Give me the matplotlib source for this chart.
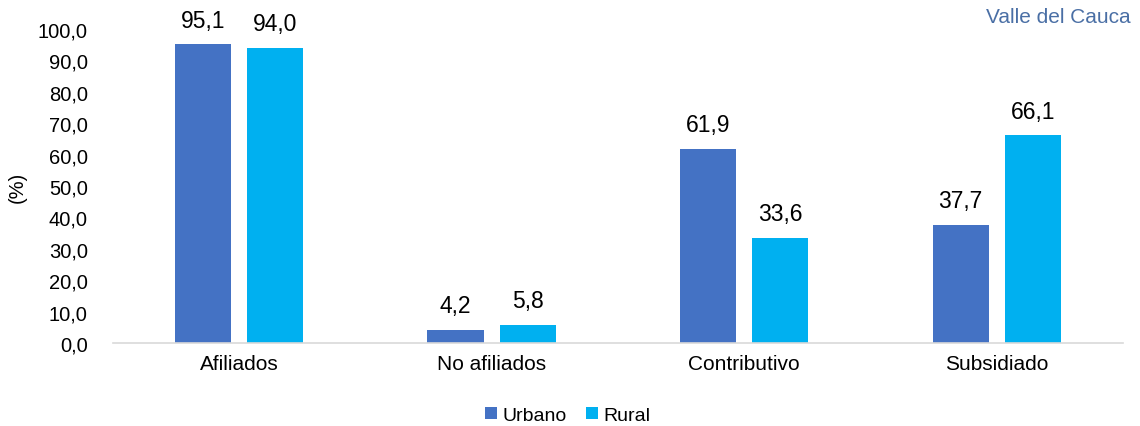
import numpy as np
import matplotlib.pyplot as plt

plt.rcParams['font.family'] = ['Liberation Sans', 'DejaVu Sans']

categories = ['Afiliados', 'No afiliados', 'Contributivo', 'Subsidiado']
urbano = [95.1, 4.2, 61.9, 37.7]
rural = [94.0, 5.8, 33.6, 66.1]
yticks = np.arange(0, 101, 10)

fig = plt.figure(figsize=(11.4, 4.27), dpi=100)
ax = fig.add_axes([0.099, 0.194, 0.886, 0.736])

x = np.arange(len(categories))
w = 0.222
off = 0.143
b1 = ax.bar(x - off, urbano, w, color='#4472C4', label='Urbano')
b2 = ax.bar(x + off, rural, w, color='#00B0F0', label='Rural')

for bars, vals in ((b1, urbano), (b2, rural)):
    for b, v in zip(bars, vals):
        ax.annotate(f'{v:.1f}'.replace('.', ','), (b.get_x() + b.get_width() / 2, v),
                    xytext=(0, 9), textcoords='offset points',
                    ha='center', va='bottom', fontsize=16.5, color='#000000')

ax.set_xlim(-0.5, 3.5)
ax.set_ylim(0, 100)
ax.set_yticks(yticks)
ax.set_yticklabels([f'{t:.1f}'.replace('.', ',') for t in yticks], fontsize=14.5)
ax.set_xticks(x)
ax.set_xticklabels(categories, fontsize=15)
ax.tick_params(axis='both', length=0, pad=8)
ax.tick_params(axis='y', pad=18)
for s in ('top', 'right', 'left'):
    ax.spines[s].set_visible(False)
ax.spines['bottom'].set_color('#D9D9D9')
ax.spines['bottom'].set_linewidth(1.2)
ax.set_ylabel('(%)', fontsize=14.5, labelpad=8)

fig.text(0.992, 0.96, 'Valle del Cauca', ha='right', va='center', fontsize=15, color='#4A6FA5')

fig.legend(handles=[b1, b2], loc='center', bbox_to_anchor=(0.498, 0.025), ncol=2, frameon=False,
           fontsize=14, handlelength=0.6, handleheight=0.6, handletextpad=0.3,
           columnspacing=1.0)

fig.savefig('out.png', dpi=100)
